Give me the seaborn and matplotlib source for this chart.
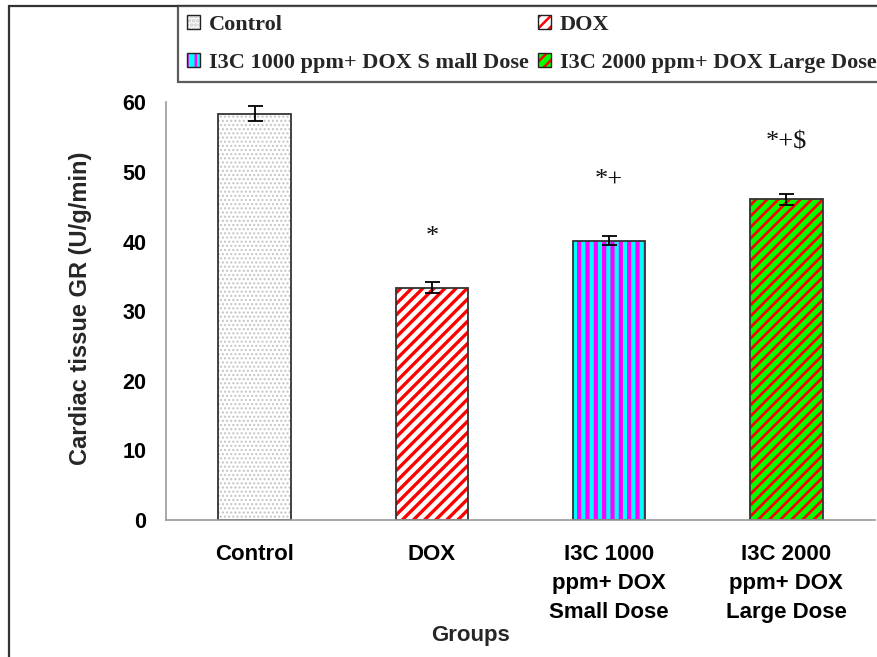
import numpy as np
import pandas as pd
import matplotlib
matplotlib.use("Agg")
import matplotlib.pyplot as plt
from matplotlib.patches import Rectangle, Patch
from matplotlib.legend_handler import HandlerTuple
import seaborn as sns

# ---- data ----
categories = ["Control", "DOX", "I3C 1000 ppm+ DOX Small Dose", "I3C 2000 ppm+ DOX Large Dose"]
tick_labels = ["Control", "DOX", "I3C 1000\nppm+ DOX\nSmall Dose", "I3C 2000\nppm+ DOX\nLarge Dose"]
legend_labels = ["Control", "DOX", "I3C 1000 ppm+ DOX S mall Dose", "I3C 2000 ppm+ DOX Large Dose"]
values = [58.4, 33.4, 40.1, 46.1]
errors = [1.05, 0.8, 0.65, 0.8]
sig_labels = ["", "*", "*+", "*+$"]
sig_y = [0, 40.7, 48.9, 54.2]

face_colors = ["#ffffff", "#ffffff", "#00ffff", "#00ff00"]
hatch_colors = ["#c4c4c4", "#ff0000", "#ff00ff", "#ff0000"]
hatches = ["....", "///", "||", "///"]
hatch_lws = [1.0, 2.4, 3.0, 2.0]

sns.set_style("white")
plt.rcParams["hatch.linewidth"] = 1.8

fig = plt.figure(figsize=(8.77, 6.57), dpi=100)
ax = fig.add_axes([166/877, 1-520/657, (875-166)/877, (520-102.5)/657])

df = pd.DataFrame({"group": categories, "value": values})
sns.barplot(data=df, x="group", y="value", hue="group", palette=face_colors,
            saturation=1, width=0.41, errorbar=None, legend=False, ax=ax,
            linewidth=0)

for p, hc, h, hlw in zip(ax.patches, hatch_colors, hatches, hatch_lws):
    p.set_edgecolor(hc)
    p.set_linewidth(0)
    p.set_hatch(h)
    if hasattr(p, "set_hatch_linewidth"):
        p.set_hatch_linewidth(hlw)
    else:
        p._hatch_linewidth = hlw
    outline = Rectangle(p.get_xy(), p.get_width(), p.get_height(), fill=False,
                        edgecolor="#333333", linewidth=1.3, zorder=p.get_zorder()+0.1)
    ax.add_patch(outline)

ax.errorbar(x=np.arange(len(values)), y=values, yerr=errors, fmt="none",
            ecolor="black", elinewidth=1.3, capsize=5.4, capthick=1.3, zorder=5)

for i, (lab, yy) in enumerate(zip(sig_labels, sig_y)):
    if lab:
        ax.text(i, yy, lab, ha="center", va="center", fontsize=19,
                family="Liberation Serif", color="#111111")

ax.set_ylim(0, 60)
ax.set_xlim(-0.5, 3.5)
ax.set_yticks([0, 10, 20, 30, 40, 50, 60])
ax.set_xticks(range(4))
ax.set_xticklabels(tick_labels, fontsize=16, fontweight="bold",
                   family="Liberation Sans", linespacing=1.5)
for t in ax.get_yticklabels():
    t.set_fontsize(15.5)
    t.set_fontweight("bold")
    t.set_family("Liberation Sans")
ax.tick_params(axis="y", length=0, pad=14, colors="black")
ax.tick_params(axis="x", which="major", length=0, pad=17, colors="black")
ax.set_xticks([-0.5, 0.5, 1.5, 2.5, 3.5], minor=True)
ax.tick_params(axis="x", which="minor", length=5.5, width=1.2, color="#999999", direction="out")

for s in ["top", "right"]:
    ax.spines[s].set_visible(False)
for s in ["left", "bottom"]:
    ax.spines[s].set_color("#999999")
    ax.spines[s].set_linewidth(1.2)

ax.set_ylabel("Cardiac tissue GR (U/g/min)", fontsize=17, fontweight="bold",
              family="Liberation Sans")
ax.yaxis.set_label_coords(-0.121, 0.507)
ax.yaxis.label.set_va("center")
ax.set_xlabel("Groups", fontsize=16, fontweight="bold", family="Liberation Sans")
ax.xaxis.set_label_coords(0.43, -0.277)
ax.xaxis.label.set_va("center")

# figure border
fig.patches.append(Rectangle((9/877, -0.2), 1.2, 1.2 - 6/657, transform=fig.transFigure,
                             fill=False, edgecolor="#333333", linewidth=1.6))

# legend
handles = []
for fc, hc, h, hlw in zip(face_colors, hatch_colors, hatches, hatch_lws):
    hp = Patch(facecolor=fc, edgecolor=hc, hatch=h, linewidth=0)
    if hasattr(hp, "set_hatch_linewidth"):
        hp.set_hatch_linewidth(hlw)
    op = Patch(fill=False, edgecolor="#222222", linewidth=1.0)
    handles.append((hp, op))
order = [0, 2, 1, 3]
leg = fig.legend([handles[i] for i in order], [legend_labels[i] for i in order],
                 handler_map={tuple: HandlerTuple(ndivide=1, pad=0)},
                 loc="upper left", bbox_to_anchor=(178/877, 1-6/657),
                 ncol=2, frameon=True, fancybox=False, borderaxespad=0,
                 prop={"family": "Liberation Serif", "weight": "bold", "size": 16},
                 handlelength=0.6, handleheight=0.6, handletextpad=0.4,
                 columnspacing=0.4, labelspacing=0.8, borderpad=0.4)
leg.get_frame().set_edgecolor("#333333")
leg.get_frame().set_linewidth(1.6)

fig.savefig("out.png", dpi=100)
